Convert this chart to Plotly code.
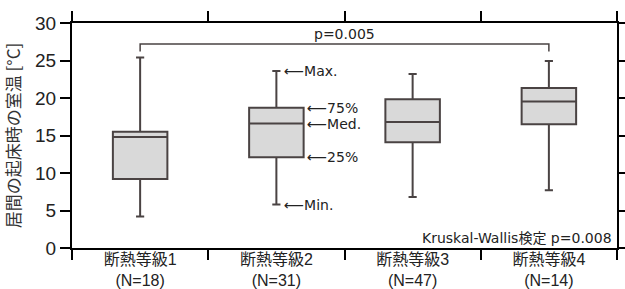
import plotly.graph_objects as go

categories = ["断熱等級1<br>(N=18)", "断熱等級2<br>(N=31)", "断熱等級3<br>(N=47)", "断熱等級4<br>(N=14)"]
mins = [4.2, 5.8, 6.8, 7.7]
q1s = [9.2, 12.1, 14.1, 16.5]
medians = [14.8, 16.6, 16.8, 19.55]
q3s = [15.5, 18.7, 19.85, 21.35]
maxs = [25.4, 23.6, 23.2, 24.95]
y_ticks = [0, 5, 10, 15, 20, 25, 30]
bracket_x = [categories[0], categories[0], categories[3], categories[3]]
bracket_y = [26.2, 27.2, 27.2, 26.2]
bracket_label = "p=0.005"
kw_label = "Kruskal-Wallis検定 p=0.008"
y_title = "居間の起床時の室温 [°C]"

FONT = "Liberation Sans, Arial, Noto Sans CJK JP"
TXT = "#222222"
BOXLINE = "#4a4343"

fig = go.Figure()
fig.add_trace(go.Box(
    x=categories, q1=q1s, median=medians, q3=q3s,
    lowerfence=mins, upperfence=maxs,
    width=0.4, whiskerwidth=0.15,
    fillcolor="#d9d9d9", line=dict(color=BOXLINE, width=2),
    boxpoints=False, hoverinfo="skip", showlegend=False,
))
fig.add_trace(go.Scatter(
    x=bracket_x, y=bracket_y, mode="lines",
    line=dict(color=BOXLINE, width=1.5), showlegend=False, hoverinfo="skip",
))

ann = []
ann.append(dict(x=1.5, y=bracket_y[1], xref="x", yref="y", text=bracket_label,
                showarrow=False, yanchor="bottom", yshift=0,
                font=dict(family="DejaVu Sans, Noto Sans CJK JP", size=14, color=TXT)))
ann.append(dict(x=1, y=0, xref="paper", yref="paper", text=kw_label,
                showarrow=False, xanchor="right", yanchor="bottom", xshift=-3, yshift=0,
                font=dict(family="DejaVu Sans, Noto Sans CJK JP", size=14, color=TXT)))
labels = [("Max.", maxs[1], 6), ("75%", q3s[1], 29), ("Med.", medians[1], 29),
          ("25%", q1s[1], 29), ("Min.", mins[1], 6)]
for t, v, sh in labels:
    ann.append(dict(x=categories[1], y=v, xref="x", yref="y", text="⟵" + t,
                    showarrow=False, xanchor="left", yanchor="middle", xshift=sh,
                    font=dict(family="DejaVu Sans, Liberation Sans", size=14, color=TXT)))

fig.update_layout(
    width=625, height=289,
    margin=dict(l=72, r=8, t=23, b=41, autoexpand=False),
    plot_bgcolor="white", paper_bgcolor="white",
    font=dict(family=FONT, color=TXT),
    annotations=ann,
    xaxis=dict(
        type="category", categoryorder="array", categoryarray=categories,
        range=[-0.5, len(categories) - 0.5],
        tickson="boundaries", ticks="outside", ticklen=10, tickwidth=2, tickcolor="black",
        showline=True, linecolor="black", linewidth=2, mirror="ticks", automargin=False,
        showgrid=False, tickfont=dict(size=16, color=TXT, family=FONT),
        ticklabelstandoff=-4,
    ),
    yaxis=dict(
        range=[0, 30], tickvals=y_ticks, ticks="outside", ticklen=10, tickwidth=2,
        tickcolor="black", showline=True, linecolor="black", linewidth=2, mirror="ticks",
        showgrid=False, zeroline=False, automargin=False,
        tickfont=dict(size=19, color=TXT, family=FONT),
        title=dict(text=y_title, standoff=10, font=dict(size=17, color="#333333", family="Noto Sans CJK JP")),
    ),
)
fig.write_html("out.html", config={"displayModeBar": False},
               post_script="document.body.style.margin='0';")
